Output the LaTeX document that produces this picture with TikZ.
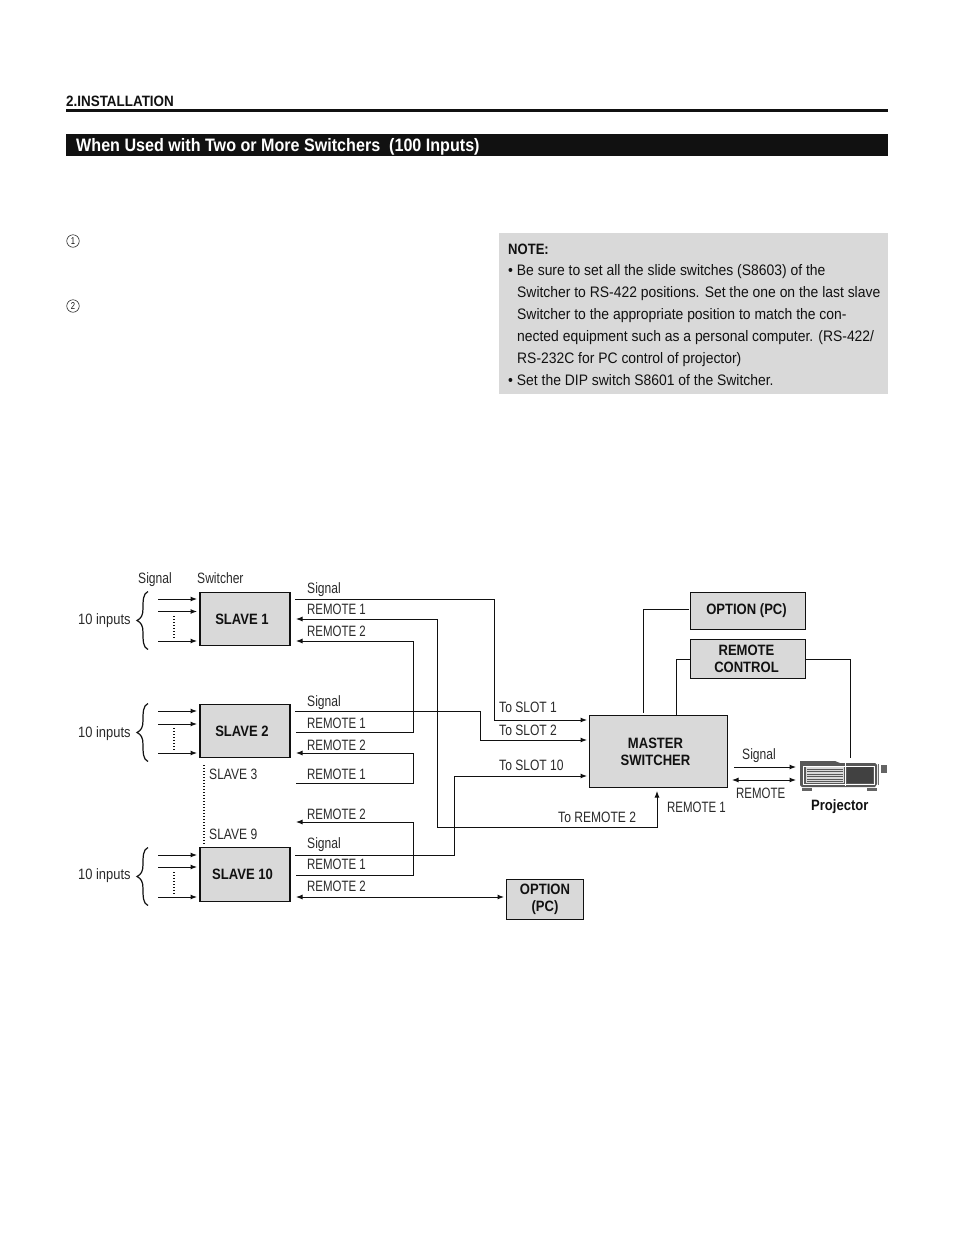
\documentclass[tikz,border=0pt]{standalone}
\usepackage{fontspec}
\setmainfont{Liberation Sans}
\newfontfamily\cond[FakeStretch=0.765]{Liberation Sans}
\newfontfamily\condw[FakeStretch=0.805]{Liberation Sans}
\newfontfamily\condi[FakeStretch=0.86]{Liberation Sans}
\newfontfamily\noteface[FakeStretch=0.915]{Liberation Sans}
\newfontfamily\condb[FakeStretch=0.87]{Liberation Sans Bold}
\newfontfamily\headb[FakeStretch=0.895]{Liberation Sans Bold}
\usetikzlibrary{arrows.meta}
\definecolor{boxgray}{HTML}{D9D9D9}
\definecolor{ink}{HTML}{111111}
\definecolor{labink}{HTML}{2A2A2A}
\newcommand{\shft}[2]{\hbox{#2\kern#1pt}}
\newcommand{\lowr}[1]{\raisebox{-1.5pt}{#1}}
\tikzset{
  x=1pt,y=-1pt,
  wire/.style={draw=ink,line width=1pt},
  tip/.style={-{Latex[length=6.5pt,width=5pt]}},
  tipin/.style={{Latex[length=6.5pt,width=5pt]}-},
  tipboth/.style={{Latex[length=6.5pt,width=5pt]}-{Latex[length=6.5pt,width=5pt]}},
  dots/.style={draw=ink,line width=1.2pt,dash pattern=on 1.2pt off 1.8pt},
  lab/.style={anchor=base west,inner sep=0pt,text=labink,font=\fontsize{15}{16}\cond},
  labw/.style={anchor=base west,inner sep=0pt,text=labink,font=\fontsize{15}{16}\condw},
  labi/.style={anchor=base west,inner sep=0pt,text=labink,font=\fontsize{15}{16}\condi},
  boxlab/.style={draw=ink,line width=1.7pt,fill=boxgray,inner sep=0pt,align=center,text=ink,font=\fontsize{15}{17}\condb},
  bracepath/.style={draw=ink,line width=1.2pt},
  notetxt/.style={anchor=base west,inner sep=0pt,text=ink,font=\fontsize{15.2}{16}\noteface},
}
\newcommand{\inbrace}[1]{%
  \draw[bracepath] (148,#1-29) .. controls (143,#1-27) and (143,#1-20) .. (143,#1-12)
    .. controls (143,#1-5) and (141,#1-2) .. (137,#1)
    .. controls (141,#1+2) and (143,#1+5) .. (143,#1+12)
    .. controls (143,#1+20) and (143,#1+27) .. (148,#1+29);}
\begin{document}
\begin{tikzpicture}
\useasboundingbox (0,0) rectangle (954,1237);
\fill[white] (0,0) rectangle (954,1237);

% page header
\node[anchor=base west,inner sep=0pt,text=ink,font=\fontsize{15}{16}\headb] (hdr) at (66,106.5) {2.INSTALLATION};
\fill[ink] (66,109) rectangle (888,111.5);
\fill[ink] (66,134) rectangle (888,156);
\node[anchor=base west,inner sep=0pt,text=white,font=\fontsize{18}{20}\headb] (title) at (76,151.5) {When Used with Two or More Switchers\ \ (100 Inputs)};

% step marks
\node[circle,draw=ink,line width=0.5pt,inner sep=0pt,minimum size=12.5pt,text=ink,font=\fontsize{10}{11}\cond] (m1) at (73,241) {1};
\node[circle,draw=ink,line width=0.5pt,inner sep=0pt,minimum size=12.5pt,text=ink,font=\fontsize{10}{11}\cond] (m2) at (73,306) {2};

% note
\fill[boxgray] (499,233) rectangle (888,394);
\node[anchor=base west,inner sep=0pt,text=ink,font=\fontsize{15}{16}\condb] (n0) at (508,254.5) {NOTE:};
\node[notetxt] (n1) at (508,275) {• Be sure to set all the slide switches (S8603) of the};
\node[notetxt] (n2) at (517,297) {Switcher to RS-422 positions. Set the one on the last slave};
\node[notetxt] (n3) at (517,319) {Switcher to the appropriate position to match the con-};
\node[notetxt] (n4) at (517,341) {nected equipment such as a personal computer. (RS-422/};
\node[notetxt] (n5) at (517,363) {RS-232C for PC control of projector)};
\node[notetxt] (n6) at (508,385) {• Set the DIP switch S8601 of the Switcher.};

% boxes
\node[boxlab,minimum width=90pt,minimum height=53pt] (s1) at (245,619) {\lowr{\shft{6}{SLAVE 1}}};
\node[boxlab,minimum width=90pt,minimum height=53pt] (s2) at (245,731) {\lowr{\shft{6}{SLAVE 2}}};
\node[boxlab,minimum width=90pt,minimum height=54pt] (s10) at (245,874.5) {\lowr{\shft{5}{SLAVE 10}}};
\node[boxlab,minimum width=138pt,minimum height=72pt] (m) at (658.5,751.5) {\shft{6}{MASTER}\\\shft{6}{SWITCHER}};
\node[boxlab,minimum width=115pt,minimum height=37pt] (opt) at (748,611) {\raisebox{1pt}{\shft{3}{OPTION (PC)}}};
\node[boxlab,minimum width=115pt,minimum height=39pt] (rc) at (748,659) {\shft{3}{REMOTE}\\\shft{3}{CONTROL}};
\node[boxlab,minimum width=77pt,minimum height=40pt] (opt2) at (545,899.5) {OPTION\\(PC)};

% ports
\coordinate (s1sig) at (295,599);
\coordinate (s1r1) at (296,619);
\coordinate (s1r2) at (296,641);
\coordinate (s2sig) at (295,711);
\coordinate (s2r1) at (296,732);
\coordinate (s2r2) at (296,753);
\coordinate (s3r1) at (296,783);
\coordinate (s9r2) at (296,822);
\coordinate (s10sig) at (295,855);
\coordinate (s10r1) at (296,875);
\coordinate (s10r2) at (296,897);
\coordinate (mi1) at (587,720);
\coordinate (mi2) at (587,740);
\coordinate (mi10) at (587,776);
\coordinate (mr) at (657,791);
\coordinate (opt2in) at (504,897);
\coordinate (optw) at (689,609.5);
\coordinate (mt1) at (643,713);
\coordinate (mt2) at (676,715);
\coordinate (pTop) at (850,758);
\coordinate (pSig) at (796,767);
\coordinate (pRem) at (796,780);
\coordinate (mSig) at (734,767);
\coordinate (mRem) at (732,780);

% connectors
\draw[wire,tip] (s1sig) -- (494,599) -- (494,720) -- (mi1);
\draw[wire,tip] (s2sig) -- (480,711) -- (480,740) -- (mi2);
\draw[wire,tip] (s10sig) -- (454,855) -- (454,776) -- (mi10);
\draw[wire,tipboth] (s1r1) -- (437.5,619) -- (437.5,827) -- (657,827) -- (mr);
\draw[wire,tipin] (s1r2) -- (413,641) -- (413,732) -- (s2r1);
\draw[wire,tipin] (s2r2) -- (413,753) -- (413,783) -- (s3r1);
\draw[wire,tipin] (s9r2) -- (413,822) -- (413,875) -- (s10r1);
\draw[wire,tipboth] (s10r2) -- (opt2in);
\draw[wire] (optw) -- (643,609.5) -- (mt1);
\draw[wire] (rc.west) -- (676,659) -- (mt2);
\draw[wire] (rc.east) -- (850,659) -- (pTop);
\draw[wire,tip] (mSig) -- (pSig);
\draw[wire,tipboth] (mRem) -- (pRem);

% inputs
\foreach \nm/\a/\b/\c in {i/599/611.5/641, j/711/724/753, k/855/867/897}{
  \coordinate (\nm a) at (158,\a);
  \coordinate (\nm b) at (158,\b);
  \coordinate (\nm c) at (158,\c);
  \draw[wire,tip] (\nm a) -- (197,\a);
  \draw[wire,tip] (\nm b) -- (197,\b);
  \draw[wire,tip] (\nm c) -- (197,\c);
}
\draw[dots] (174,616) -- (174,638);
\draw[dots] (174,728) -- (174,750);
\draw[dots] (174,872) -- (174,894);
\draw[dots] (204,765) -- (204,844);

\inbrace{620.5}
\inbrace{732.5}
\inbrace{876.5}

% labels
\node[labw] at (138,583.5) {Signal};
\node[labw] at (197,583.5) {Switcher};
\node[labi] at (78,624.5) {10 inputs};
\node[labi] at (78,737) {10 inputs};
\node[labi] at (78,879.5) {10 inputs};
\node[labw] at (307,593.5) {Signal};
\node[lab] at (307,614.5) {REMOTE 1};
\node[lab] at (307,636.5) {REMOTE 2};
\node[labw] at (307,706.5) {Signal};
\node[lab] at (307,728.5) {REMOTE 1};
\node[lab] at (307,750.5) {REMOTE 2};
\node[labw] at (209,779.5) {SLAVE 3};
\node[lab] at (307,779.5) {REMOTE 1};
\node[lab] at (307,819.5) {REMOTE 2};
\node[labw] at (209,839.5) {SLAVE 9};
\node[labw] at (307,848.5) {Signal};
\node[lab] at (307,869.5) {REMOTE 1};
\node[lab] at (307,891.5) {REMOTE 2};
\node[labw] at (499,712.5) {To SLOT 1};
\node[labw] at (499,735.5) {To SLOT 2};
\node[labw] at (499,770.5) {To SLOT 10};
\node[labw] at (558,822.5) {To REMOTE 2};
\node[lab] at (667,812.5) {REMOTE 1};
\node[labw] at (742,759.5) {Signal};
\node[lab] at (736,798.5) {REMOTE};
\node[anchor=base west,inner sep=0pt,text=ink,font=\fontsize{15}{16}\condb] at (811,810) {Projector};

% projector
\fill[ink!70] (800,761) -- (835,761) -- (840,763) -- (875,763) -- (877,765) -- (877,784) -- (875,787) -- (802,787) -- (800,785) -- cycle;
\draw[white,line width=0.8pt] (803,766) rectangle (874,784);
\draw[white,line width=0.8pt] (845,762) -- (845,786);
\fill[ink!80] (846.5,767) rectangle (872.5,783);
\fill[boxgray] (806,767) rectangle (843.5,783);
\foreach \yy in {769,771.5,774,776.5,779,781.5}{\draw[ink!70,line width=0.8pt] (807,\yy) -- (843,\yy);}
\fill[ink!65] (802,788) rectangle (812,791);
\fill[ink!65] (867,788) rectangle (877,791);
\draw[ink!60,line width=1pt] (878.5,764) -- (878.5,785);
\fill[ink!65] (881,765) rectangle (887,773);
\end{tikzpicture}
\end{document}
